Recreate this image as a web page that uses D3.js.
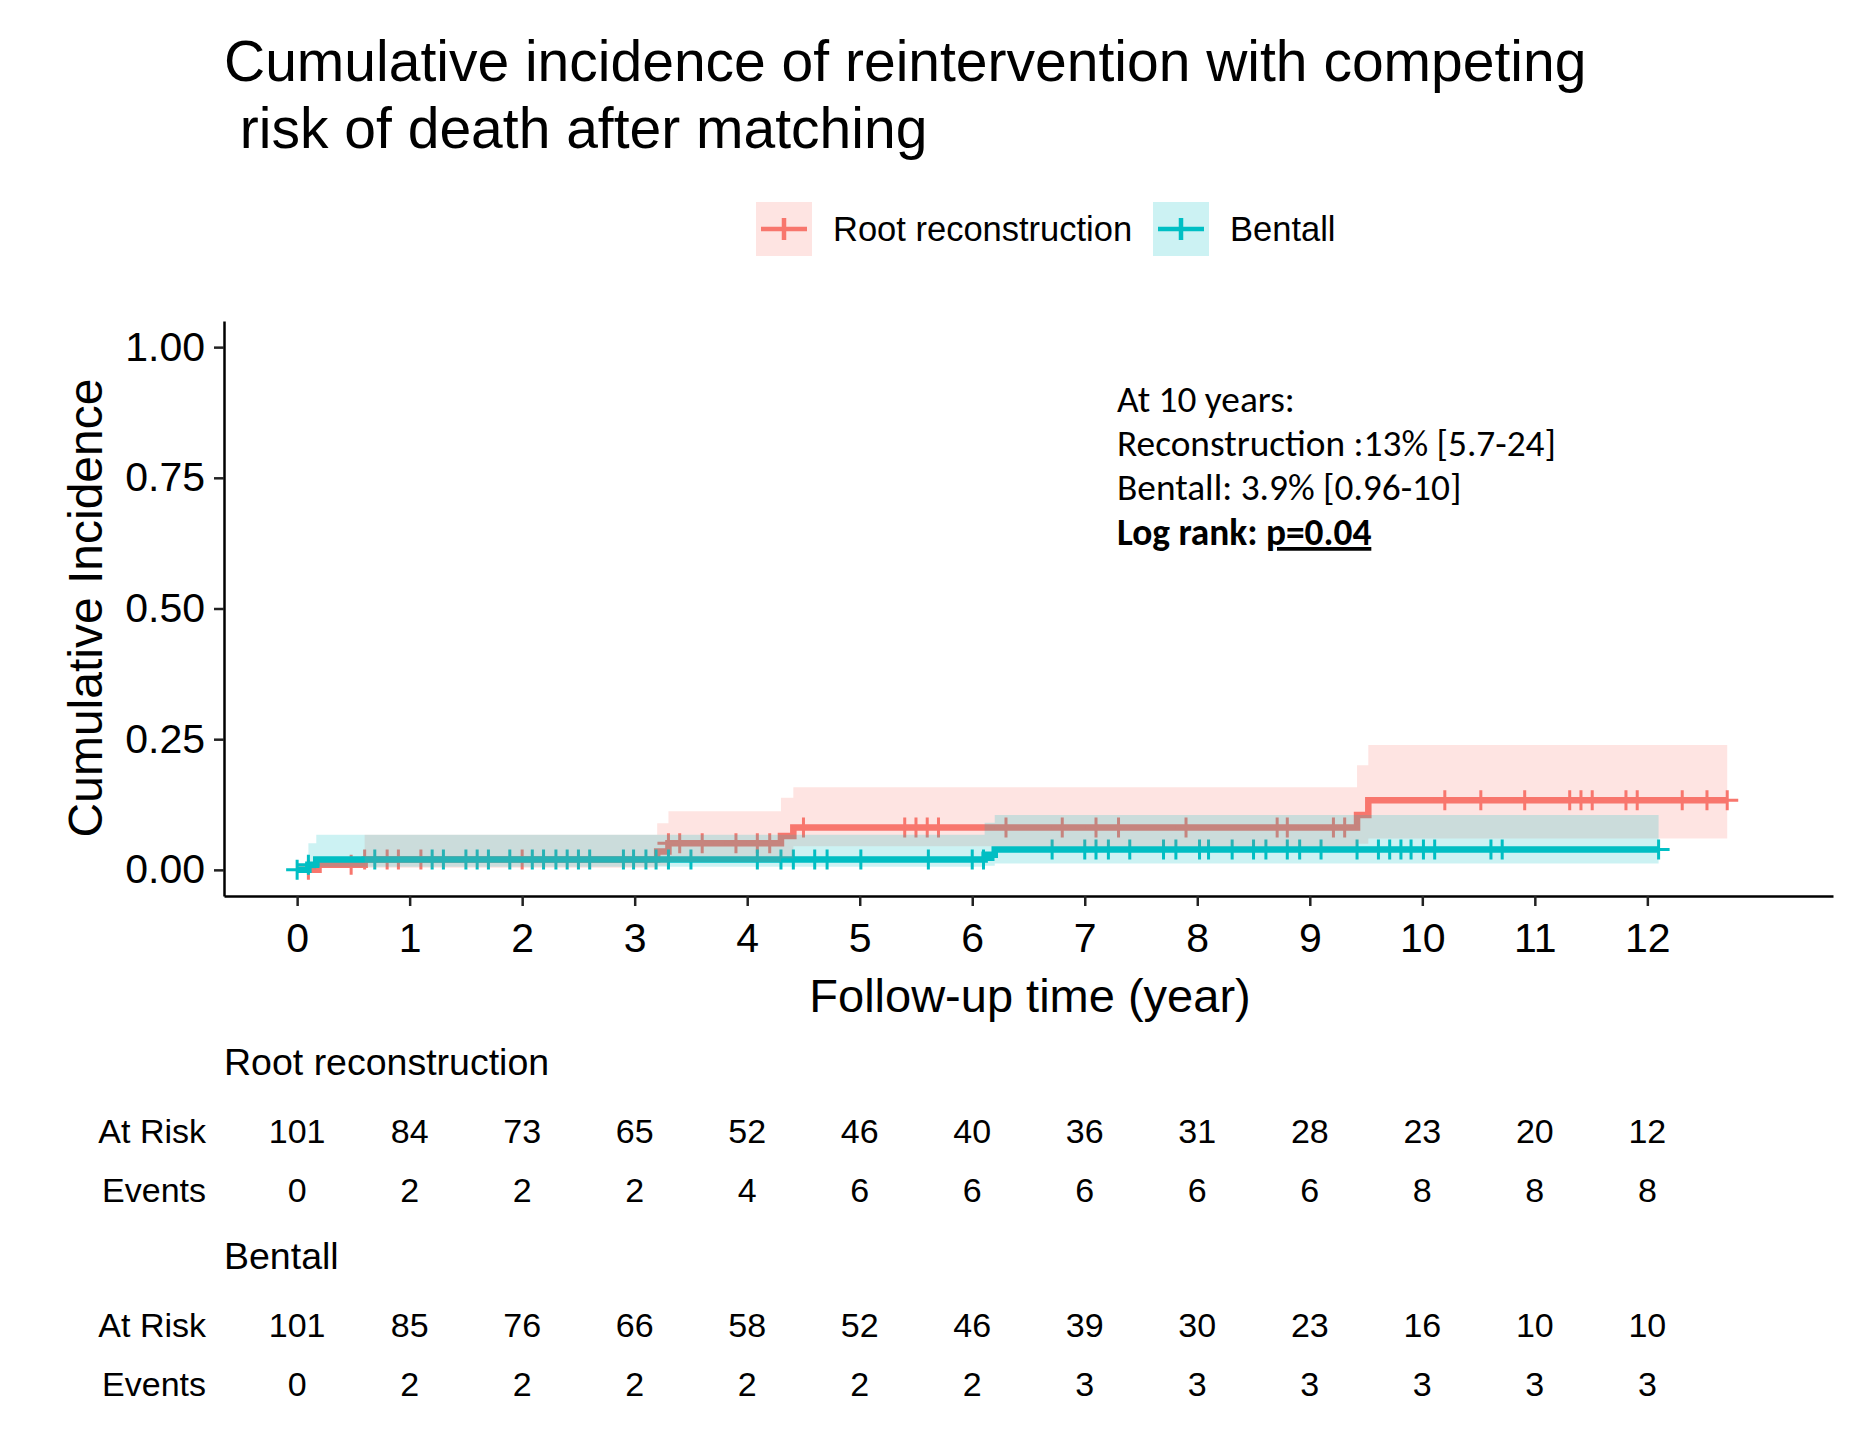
<!DOCTYPE html>
<html>
<head>
<meta charset="utf-8">
<script src="https://cdn.jsdelivr.net/npm/d3@7"></script>
<style>
  body { margin: 0; background: #fff; }
  text { font-family: "Liberation Sans", Arial, sans-serif; fill: #000; }
</style>
</head>
<body>
<svg id="chart" width="1875" height="1438"></svg>
<script>
// ---- data ----
const groups = ['Root reconstruction', 'Bentall'];
const colors = ['#F8766D', '#00BFC4'];

// step curves (time in years, cumulative incidence)
const rootTime = [0, 0.19, 0.6, 3.2, 3.3, 4.3, 4.41, 9.42, 9.52];
const rootEst  = [0, 0.0099, 0.0199, 0.035, 0.051, 0.065, 0.081, 0.105, 0.133];
const rootLow  = [0, 0.0099, 0.004, 0.008, 0.015, 0.022, 0.045, 0.05, 0.06];
const rootUp   = [0, 0.0099, 0.067, 0.089, 0.112, 0.138, 0.158, 0.2, 0.239];
const rootEnd  = 12.71;

const bentTime = [0, 0.1, 0.17, 6.11, 6.2];
const bentEst  = [0, 0.0099, 0.0199, 0.029, 0.039];
const bentLow  = [0, 0.0005, 0.006, 0.008, 0.012];
const bentUp   = [0, 0.051, 0.067, 0.09, 0.105];
const bentEnd  = 12.1;

// censoring marks
const rootCensor = [0.1, 0.48, 0.6, 0.8, 0.9, 1.1, 2.0, 3.3, 3.4, 3.6, 3.9, 4.09, 4.2,
  4.5, 5.4, 5.5, 5.6, 5.7, 6.3, 6.8, 7.1, 7.3, 7.9, 8.71, 8.8, 9.21, 9.31,
  10.2, 10.52, 10.91, 11.31, 11.41, 11.51, 11.81, 11.91, 12.31, 12.53, 12.71];
const bentCensor = [0, 0.1, 0.69, 1.2, 1.3, 1.5, 1.6, 1.7, 1.89, 2.09, 2.19, 2.3, 2.4, 2.5,
  2.6, 2.9, 2.99, 3.1, 3.19, 3.3, 3.5, 4.09, 4.3, 4.41, 4.6, 4.71, 5.01, 5.61, 6.0, 6.1,
  6.71, 7.0, 7.1, 7.21, 7.4, 7.7, 7.81, 8.02, 8.1, 8.31, 8.5, 8.61, 8.8, 8.91, 9.1,
  9.42, 9.61, 9.71, 9.81, 9.9, 10.01, 10.11, 10.61, 10.71, 12.1];

// risk table
const riskTimes = [0, 1, 2, 3, 4, 5, 6, 7, 8, 9, 10, 11, 12];
const rootAtRisk = [101, 84, 73, 65, 52, 46, 40, 36, 31, 28, 23, 20, 12];
const rootEvents = [0, 2, 2, 2, 4, 6, 6, 6, 6, 6, 8, 8, 8];
const bentAtRisk = [101, 85, 76, 66, 58, 52, 46, 39, 30, 23, 16, 10, 10];
const bentEvents = [0, 2, 2, 2, 2, 2, 2, 3, 3, 3, 3, 3, 3];

const yTicks = [0, 0.25, 0.5, 0.75, 1];
const annotLines = ['At 10 years:', 'Reconstruction :13% [5.7-24]', 'Bentall: 3.9% [0.96-10]'];

// ---- drawing ----
const svg = d3.select('#chart');
svg.append('rect').attr('width', 1875).attr('height', 1438).attr('fill', '#fff');

const x = d3.scaleLinear().domain([-0.65, 13.65]).range([224, 1833]);
const y = d3.scaleLinear().domain([-0.05, 1.05]).range([896, 321]);

function series(time, est, low, up, end) {
  const pts = time.map((t, i) => ({t: t, est: est[i], low: low[i], up: up[i]}));
  const last = pts[pts.length - 1];
  pts.push({t: end, est: last.est, low: last.low, up: last.up});
  return pts;
}
const curves = [
  {pts: series(rootTime, rootEst, rootLow, rootUp, rootEnd), censor: rootCensor, color: colors[0]},
  {pts: series(bentTime, bentEst, bentLow, bentUp, bentEnd), censor: bentCensor, color: colors[1]}
];
const valueAt = (pts, t) => {
  let v = 0;
  pts.forEach(p => { if (p.t <= t + 1e-9) v = p.est; });
  return v;
};

const line = d3.line().x(d => x(d.t)).y(d => y(d.est)).curve(d3.curveStepAfter);
const area = d3.area().x(d => x(d.t)).y0(d => y(d.low)).y1(d => y(d.up)).curve(d3.curveStepAfter);

const plot = svg.append('g');

// lines and censor marks
curves.forEach(c => {
  plot.append('path').datum(c.pts)
    .attr('d', line)
    .attr('fill', 'none')
    .attr('stroke', c.color)
    .attr('stroke-width', 6.5);
  const cg = plot.append('g');
  c.censor.forEach(t => {
    const cx = x(t), cy = y(valueAt(c.pts, t));
    cg.append('path')
      .attr('d', `M${cx - 11},${cy}H${cx + 11}M${cx},${cy - 10}V${cy + 10}`)
      .attr('stroke', c.color)
      .attr('stroke-width', 3)
      .attr('fill', 'none');
  });
});

// confidence bands on top (alpha 0.2)
curves.forEach(c => {
  plot.append('path').datum(c.pts)
    .attr('d', area)
    .attr('fill', c.color)
    .attr('fill-opacity', 0.2);
});

// axes
const yAxis = d3.axisLeft(y).tickValues(yTicks).tickFormat(d3.format('.2f'))
  .tickSize(10).tickSizeOuter(0).tickPadding(9);
const yG = svg.append('g').attr('transform', 'translate(224,0)').call(yAxis);
const xAxis = d3.axisBottom(x).tickValues(riskTimes).tickFormat(d3.format('d'))
  .tickSize(10).tickSizeOuter(0).tickPadding(17);
const xG = svg.append('g').attr('transform', 'translate(0,896)').call(xAxis);

[yG, xG].forEach(g => {
  g.attr('font-family', null).attr('font-size', null);
  g.select('.domain').attr('stroke', '#000').attr('stroke-width', 2.5);
  g.selectAll('.tick line').attr('stroke', '#222').attr('stroke-width', 2.5);
  g.selectAll('.tick text').attr('fill', '#000').style('font-size', '41px');
});

// axis titles
svg.append('text')
  .attr('transform', 'translate(102,608) rotate(-90)')
  .attr('text-anchor', 'middle')
  .style('font-size', '48px')
  .text('Cumulative Incidence');
svg.append('text')
  .attr('x', 1030).attr('y', 1012)
  .attr('text-anchor', 'middle')
  .style('font-size', '47px')
  .text('Follow-up time (year)');

// title
const title = svg.append('text').style('font-size', '57px').attr('xml:space', 'preserve');
title.append('tspan').attr('x', 224).attr('y', 81)
  .text('Cumulative incidence of reintervention with competing');
title.append('tspan').attr('x', 224).attr('y', 148).style('white-space', 'pre')
  .text(' risk of death after matching');

// legend
const legendX = [756, 1153];
const legendTextX = [833, 1230];
groups.forEach((g, i) => {
  const lg = svg.append('g');
  lg.append('rect').attr('x', legendX[i]).attr('y', 202).attr('width', 56).attr('height', 54)
    .attr('fill', colors[i]).attr('fill-opacity', 0.2);
  lg.append('path')
    .attr('d', `M${legendX[i] + 5},229H${legendX[i] + 51}M${legendX[i] + 28},218V240`)
    .attr('stroke', colors[i]).attr('stroke-width', 4.5).attr('fill', 'none');
  lg.append('text').attr('x', legendTextX[i]).attr('y', 241)
    .style('font-size', '34.5px').text(g);
});

// annotation (Calibri-like)
const annotFont = 'Carlito, Lato, "Open Sans", sans-serif';
const annot = svg.append('g');
const probe = annot.append('text').style('font-family', annotFont)
  .style('font-size', '100px').text(annotLines[1]);
const fs = 100 * 439 / probe.node().getComputedTextLength();
probe.remove();
const annotY = [412, 456, 500, 545];
annotLines.forEach((s, i) => {
  annot.append('text').attr('x', 1117).attr('y', annotY[i])
    .style('font-family', annotFont).style('font-size', fs + 'px').text(s);
});
const lr = annot.append('text').attr('x', 1117).attr('y', annotY[3])
  .style('font-family', annotFont).style('font-size', fs + 'px').style('font-weight', 'bold');
lr.append('tspan').text('Log rank: ');
lr.append('tspan').style('text-decoration', 'underline').text('p=0.04');

// risk table
const tables = [
  {name: groups[0], atRisk: rootAtRisk, events: rootEvents, y: [1075, 1143, 1202]},
  {name: groups[1], atRisk: bentAtRisk, events: bentEvents, y: [1269, 1337, 1396]}
];
tables.forEach(tb => {
  const tg = svg.append('g').style('font-size', '34px');
  tg.append('text').attr('x', 224).attr('y', tb.y[0]).style('font-size', '37.5px').text(tb.name);
  tg.append('text').attr('x', 206).attr('y', tb.y[1]).attr('text-anchor', 'end').text('At Risk');
  tg.append('text').attr('x', 206).attr('y', tb.y[2]).attr('text-anchor', 'end').text('Events');
  tg.selectAll('.ar').data(tb.atRisk).enter().append('text')
    .attr('x', (d, i) => x(riskTimes[i])).attr('y', tb.y[1])
    .attr('text-anchor', 'middle').text(d => d);
  tg.selectAll('.ev').data(tb.events).enter().append('text')
    .attr('x', (d, i) => x(riskTimes[i])).attr('y', tb.y[2])
    .attr('text-anchor', 'middle').text(d => d);
});
</script>
</body>
</html>
